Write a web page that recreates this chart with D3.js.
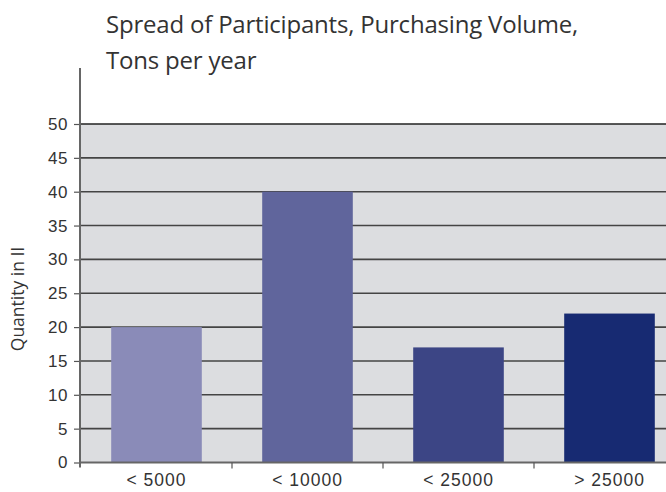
<!DOCTYPE html>
<html><head><meta charset="utf-8">
<script src="https://cdn.jsdelivr.net/npm/d3@7"></script>
<style>body{margin:0;background:#fff}svg{display:block}</style>
</head><body>
<svg id="c" width="666" height="492"></svg>
<script>
const categories = ["< 5000", "< 10000", "< 25000", "> 25000"];
const values = [20, 40, 17, 22];
const colors = ["#8a8bb8", "#60659c", "#3c4585", "#172a72"];
const yTicks = [0, 5, 10, 15, 20, 25, 30, 35, 40, 45, 50];
const titleLines = ["Spread of Participants, Purchasing Volume,", "Tons per year"];
const yLabel = "Quantity in II";

(function () {
const svg = d3.select("#c");
const pL = 81, pR = 685, pT = 124, pB = 462.5;
const x = d3.scaleBand().domain(categories).range([pL, pR]).paddingInner(0.4).paddingOuter(0.2);
const y = d3.scaleLinear().domain([0, 50]).range([pB, pT]);

svg.append("rect").attr("x", pL).attr("y", pT).attr("width", pR - pL).attr("height", pB - pT).attr("fill", "#dcdde0");

svg.append("g").selectAll("line").data(yTicks.filter(d => d > 0)).join("line")
  .attr("x1", pL).attr("x2", 666).attr("y1", d => y(d)).attr("y2", d => y(d))
  .attr("stroke", (d) => d === 50 ? "#222" : "#444").attr("stroke-width", 1.6);

svg.append("g").selectAll("rect").data(categories).join("rect")
  .attr("x", d => x(d)).attr("width", x.bandwidth())
  .attr("y", (d, i) => y(values[i])).attr("height", (d, i) => y(0) - y(values[i]))
  .attr("fill", (d, i) => colors[i]);

const ya = svg.append("g").attr("transform", `translate(${pL - 1},0)`)
  .call(d3.axisLeft(y).tickValues(yTicks).tickSize(6).tickPadding(6));
ya.select(".domain").remove();
ya.selectAll(".tick line").attr("stroke", "#555").attr("stroke-width", 1.2);
ya.selectAll(".tick text").attr("font-family", "Liberation Sans, Arial, sans-serif").attr("font-size", 17)
  .attr("letter-spacing", 0.6).attr("fill", "#333");
svg.append("line").attr("x1", pL - 1).attr("x2", pL - 1).attr("y1", 68).attr("y2", pB + 5)
  .attr("stroke", "#666").attr("stroke-width", 2);

svg.append("line").attr("x1", pL - 1).attr("x2", 666).attr("y1", pB).attr("y2", pB).attr("stroke", "#666").attr("stroke-width", 2);
const xa = svg.append("g").attr("transform", `translate(0,${pB})`)
  .call(d3.axisBottom(x).tickSize(0).tickPadding(11));
xa.select(".domain").remove();
xa.selectAll(".tick text").attr("font-family", "Liberation Sans, Arial, sans-serif").attr("font-size", 17.5)
  .attr("letter-spacing", 1).attr("fill", "#333");
svg.append("g").selectAll("line").data(categories.slice(1)).join("line")
  .attr("x1", d => x(d) - x.step() * x.paddingInner() / 2).attr("x2", d => x(d) - x.step() * x.paddingInner() / 2)
  .attr("y1", pB).attr("y2", pB + 6).attr("stroke", "#555").attr("stroke-width", 1.2);

svg.append("text").attr("transform", "translate(24,299) rotate(-90)").attr("text-anchor", "middle")
  .attr("font-family", "Open Sans, sans-serif").attr("font-size", 17.5).attr("fill", "#333").text(yLabel);

svg.append("g").selectAll("text").data(titleLines).join("text")
  .attr("x", 106).attr("y", (d, i) => 33 + i * 36)
  .attr("font-family", "Open Sans, sans-serif").attr("font-size", 24).attr("letter-spacing", -0.2)
  .attr("fill", "#333").text(d => d);
})();
</script>
</body></html>
